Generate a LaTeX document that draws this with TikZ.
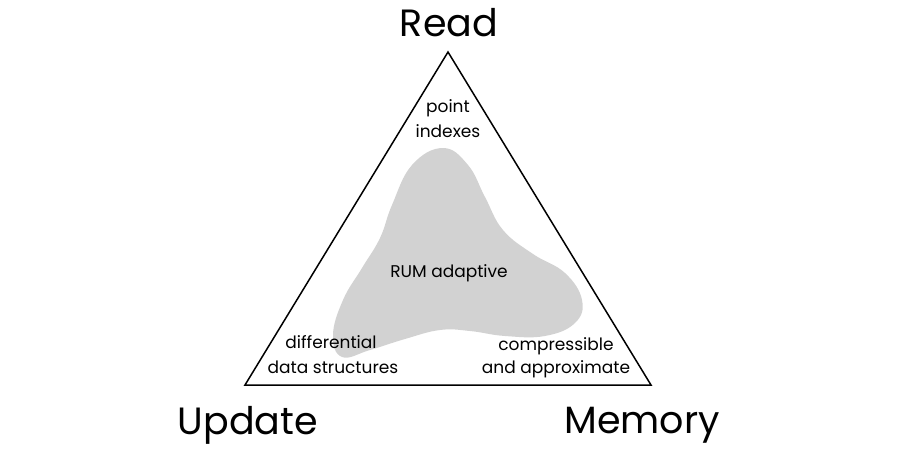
\documentclass[tikz,border=0pt]{standalone}
\usepackage{fontspec}
\setmainfont{Poppins}
\usetikzlibrary{calc}
\tikzset{
  corner/.style={font=\fontsize{38}{38}\selectfont,anchor=base},
  note/.style={font=\fontsize{17}{24}\selectfont,anchor=base,align=center},
}
\begin{document}
\begin{tikzpicture}[x=1pt,y=-1pt]
\useasboundingbox(0,0)rectangle(900,460);

%頂点
\coordinate(top)at(448,52);
\coordinate(left)at(245,385);
\coordinate(right)at(651,385);

%領域塗り
\fill[gray!35!white,draw=none]plot[smooth cycle,tension=0.7]coordinates{
  (443,148)(468,165)(485,197)(503,230)(533,254)(565,273)(582,300)
  (575,323)(545,336)(505,336)(470,331)(440,330)(405,339)(370,350)
  (342,357)(333,335)(343,300)(362,268)(380,238)(392,205)(412,165)}; %塗り

%三角形
\draw[line width=1.5pt,line join=miter](top)--(left)--(right)--cycle; %枠

%角の名前
\node[corner](read)at(449,37){Read};
\node[corner](update)at(248,434){Update};
\node[corner](memory)at(642,433){Memory};

%中の文字
\node[note](point)at(448,113){point};
\node[note](indexes)at(448,137){indexes};
\node[note](diff)at(331,348){differential};
\node[note](data)at(333,373){data structures};
\node[note](compr)at(556,350){compressible};
\node[note](approx)at(556,373){and approximate};
\node[note](rum)at(449,277){RUM adaptive};
\end{tikzpicture}
\end{document}
